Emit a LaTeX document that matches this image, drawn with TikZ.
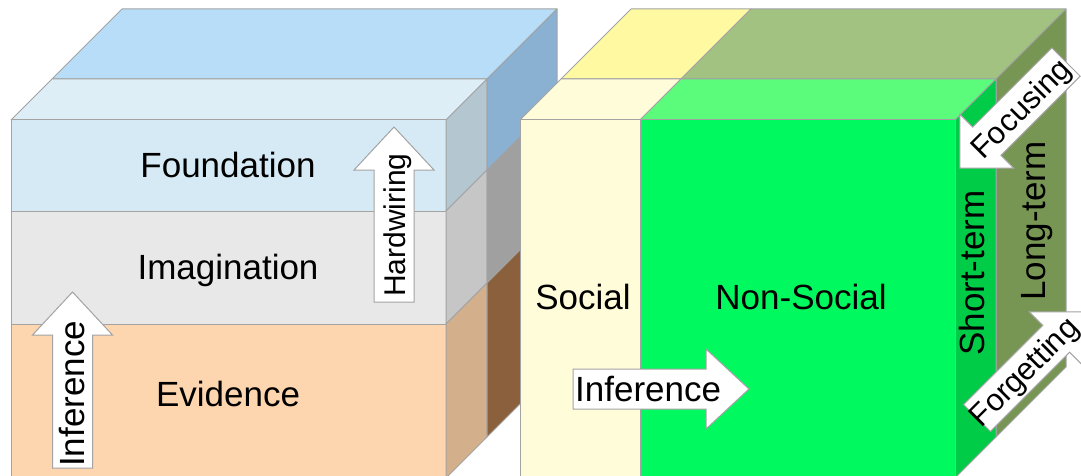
\documentclass[tikz,border=0pt]{standalone}
\usepackage{fontspec}
\setmainfont{Liberation Sans}

% Left cube colours
\definecolor{edgegray}{HTML}{A3A3A3}
\definecolor{topback}{HTML}{B8DDF8}
\definecolor{topfront}{HTML}{DDEEF7}
\definecolor{found}{HTML}{D6EAF5}
\definecolor{foundside}{HTML}{B4C7D0}
\definecolor{foundback}{HTML}{8AB0D2}
\definecolor{imag}{HTML}{E8E8E8}
\definecolor{imagside}{HTML}{C6C6C6}
\definecolor{imagback}{HTML}{A0A0A0}
\definecolor{evid}{HTML}{FDD5AF}
\definecolor{evidside}{HTML}{D4AF8C}
\definecolor{evidback}{HTML}{8B603C}

% Right cube colours
\definecolor{social}{HTML}{FFFCDA}
\definecolor{socialback}{HTML}{FFF9A2}
\definecolor{nonsocial}{HTML}{00F95E}
\definecolor{nonsocialtop}{HTML}{5BFC7B}
\definecolor{nonsocialback}{HTML}{A2C281}
\definecolor{shortterm}{HTML}{00CC48}
\definecolor{longterm}{HTML}{789653}

\begin{document}
\begin{tikzpicture}[x=1pt, y=-1pt,
    face/.style={draw=edgegray, line width=1pt, line join=round},
    bigtext/.style={inner sep=0pt, anchor=base, font=\fontsize{35}{40}\selectfont},
    arrowtext/.style={inner sep=0pt, font=\fontsize{35}{40}\selectfont},
    blockarrow/.style={draw=edgegray, fill=white, line width=1pt}]

    \useasboundingbox (0,0) rectangle (1081,476);

    %% Left cube

    % Top
    \draw[face, fill=topback] (52,79) -- (487,79) -- (557,9) -- (122,9) -- cycle;
    \draw[face, fill=topfront] (11,120) -- (446,120) -- (487,79) -- (52,79) -- cycle;

    % Foundation
    \draw[face, fill=found] (11,120) rectangle (446,211);
    \draw[face, fill=foundside] (446,120) -- (487,79) -- (487,170) -- (446,211) -- cycle;
    \draw[face, fill=foundback] (487,79) -- (557,9) -- (557,100) -- (487,170) -- cycle;
    \node[bigtext] (foundation) at (228,177) {Foundation};

    % Imagination
    \draw[face, fill=imag] (11,211) rectangle (446,324);
    \draw[face, fill=imagside] (446,211) -- (487,170) -- (487,283) -- (446,324) -- cycle;
    \draw[face, fill=imagback] (487,170) -- (557,100) -- (557,213) -- (487,283) -- cycle;
    \node[bigtext] (imagination) at (228,279) {Imagination};

    % Evidence
    \draw[face, fill=evid] (11,324) rectangle (446,478);
    \draw[face, fill=evidside] (446,324) -- (487,283) -- (487,437) -- (446,478) -- cycle;
    \draw[face, fill=evidback] (487,283) -- (557,213) -- (557,367) -- (487,437) -- cycle;
    \node[bigtext] (evidence) at (228,406) {Evidence};

    % Inference (upwards)
    \begin{scope}[shift={(72.5,468)}, rotate=90]
        \draw[blockarrow] (0,-20) -- (133,-20) -- (133,-40) -- (176,0) -- (133,40) -- (133,20) -- (0,20) -- cycle;
    \end{scope}
    \node[arrowtext, rotate=90, anchor=base west] (infup) at (84,467) {Inference};

    % Hardwiring
    \begin{scope}[shift={(394,302)}, rotate=90]
        \draw[blockarrow] (0,-20) -- (132,-20) -- (132,-40) -- (175,0) -- (132,40) -- (132,20) -- (0,20) -- cycle;
    \end{scope}
    \node[arrowtext, font=\fontsize{30}{34}\selectfont, rotate=90, anchor=base west] (hardwiring) at (405,297) {Hardwiring};

    %% Right cube

    % Top, back slab
    \draw[face, fill=socialback] (561,79) -- (681,79) -- (751,9) -- (631,9) -- cycle;
    \draw[face, fill=nonsocialback] (681,79) -- (996,79) -- (1066,9) -- (751,9) -- cycle;

    % Top, front slab
    \draw[face, fill=social] (520,120) -- (640,120) -- (681,79) -- (561,79) -- cycle;
    \draw[face, fill=nonsocialtop] (640,120) -- (955,120) -- (996,79) -- (681,79) -- cycle;

    % Long-term and short-term sides
    \draw[face, fill=longterm] (996,79) -- (1066,9) -- (1066,367) -- (996,437) -- cycle;
    \draw[face, fill=shortterm] (955,120) -- (996,79) -- (996,437) -- (955,478) -- cycle;
    \node[bigtext, rotate=90] (longterm) at (1045,221) {Long-term};
    \node[bigtext, rotate=90] (shortterm) at (984,273) {Short-term};

    % Front
    \draw[face, fill=social] (520,120) rectangle (640,478);
    \draw[face, fill=nonsocial] (640,120) rectangle (955,478);
    \node[bigtext] (social) at (583,309) {Social};
    \node[bigtext] (nonsocial) at (801,309) {Non-Social};

    % Inference (sideways)
    \begin{scope}[shift={(573,389)}]
        \draw[blockarrow] (0,-20) -- (133,-20) -- (133,-40) -- (176,0) -- (133,40) -- (133,20) -- (0,20) -- cycle;
    \end{scope}
    \node[arrowtext, anchor=base west] (infside) at (575,401) {Inference};

    % Focusing
    \begin{scope}[shift={(1066,62)}, rotate=225]
        \draw[blockarrow] (0,-20) -- (112,-20) -- (112,-38) -- (150,0) -- (112,38) -- (112,20) -- (0,20) -- cycle;
    \end{scope}
    \node[arrowtext, font=\fontsize{31}{34}\selectfont, rotate=45, anchor=base] (focusing) at (1028,116) {Focusing};

    % Forgetting
    \begin{scope}[shift={(977,418)}, rotate=45]
        \draw[blockarrow] (0,-19) -- (112,-19) -- (112,-38) -- (150,0) -- (112,38) -- (112,19) -- (0,19) -- cycle;
    \end{scope}
    \node[arrowtext, font=\fontsize{31}{34}\selectfont, rotate=45, anchor=base] (forgetting) at (1031,379) {Forgetting};

\end{tikzpicture}
\end{document}
